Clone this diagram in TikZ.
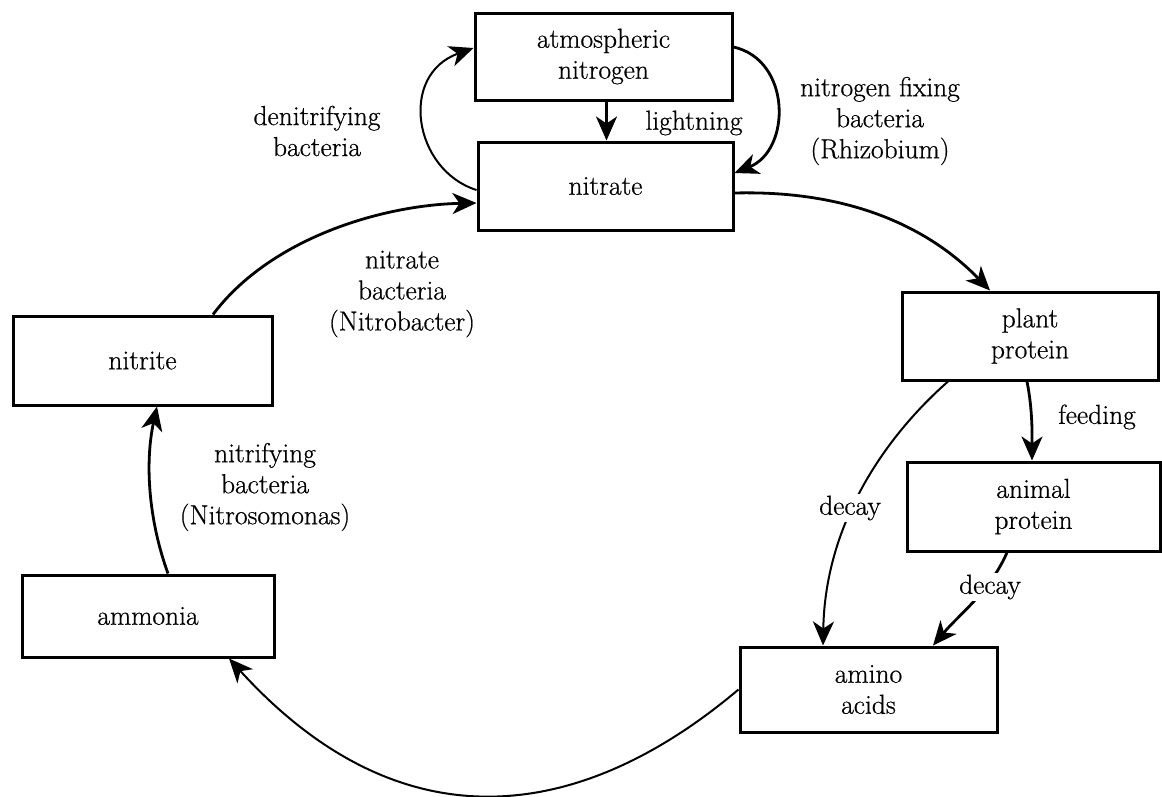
\documentclass[tikz,border=0pt]{standalone}
\usepackage{fontspec}
\setmainfont{Latin Modern Roman}
\newfontfamily\diagfont{Latin Modern Roman}[FakeBold=0.6]
\usetikzlibrary{arrows.meta}
\begin{document}
\begin{tikzpicture}[x=1pt,y=-1pt,
  font=\diagfont\fontsize{27.5}{31}\selectfont,
  box/.style={draw, line width=3pt, align=center, inner sep=0pt, fill=white},
  tipstyle/.style={-{Stealth[length=24pt,width=21pt,inset=7pt]}},
  conn/.style={tipstyle, line width=2.8pt},
  thinconn/.style={tipstyle, line width=2pt},
  lbl/.style={align=center, inner sep=2pt}]
\useasboundingbox (0,0) rectangle (1162,796);
% boxes
\node[box, minimum width=257pt, minimum height=87pt] (atm) at (603.5,56.5) {atmospheric\\nitrogen};
\node[box, minimum width=255pt, minimum height=88pt] (nitrate) at (605.5,186) {nitrate};
\node[box, minimum width=256pt, minimum height=88pt] (plant) at (1030,336) {plant\\protein};
\node[box, minimum width=253pt, minimum height=89pt] (animal) at (1033.5,506.5) {animal\\protein};
\node[box, minimum width=257pt, minimum height=85pt] (amino) at (868.5,689.5) {amino\\acids};
\node[box, minimum width=252pt, minimum height=82pt] (ammonia) at (148,616) {ammonia};
\node[box, minimum width=259pt, minimum height=89pt] (nitrite) at (142.5,360.5) {nitrite};
% connectors
\draw[conn] ([xshift=3pt]atm.south) -- ([xshift=1pt]nitrate.north);
\draw[thinconn] ([yshift=-4pt]nitrate.west) .. controls +(-63,-20) and +(-75,27) .. ([yshift=8.5pt]atm.west);
\draw[conn] ([yshift=9.5pt]atm.east) .. controls +(58,13) and +(57,-23) .. ([yshift=13pt]nitrate.east);
\draw[conn] ([yshift=-7pt]nitrate.east) .. controls +(117,-3) and +(-60,-62) .. ([xshift=-40pt]plant.north);
\draw[conn] ([xshift=-3pt]plant.south) .. controls +(6,30) and +(0,-22) .. ([xshift=-1.5pt]animal.north);
\draw[thinconn] ([xshift=-82pt]plant.south) .. controls +(-68,60) and +(2,-117) .. ([xshift=-45.5pt]amino.north);
\draw[conn] ([xshift=-26.5pt]animal.south) .. controls +(-17,39) and +(27,-32) .. ([xshift=64.5pt]amino.north);
\draw[thinconn] (amino.west) .. controls +(-160,135) and +(171,188) .. ([xshift=81pt]ammonia.south);
\draw[conn] ([xshift=20pt]ammonia.north) .. controls +(-20,-55) and +(-12,55) .. ([xshift=14.5pt]nitrite.south);
\draw[conn] ([xshift=70.5pt]nitrite.north) .. controls +(57,-76) and +(-95,2) .. ([yshift=-17pt]nitrate.west);
% labels
\node[lbl] (llight) at (694,123) {lightning};
\node[lbl] (ldenit) at (317,131) {denitrifying\\bacteria};
\node[lbl] (lfix) at (880,121) {nitrogen fixing\\bacteria\\(Rhizobium)};
\node[lbl] (lnitrobac) at (402,294) {nitrate\\bacteria\\(Nitrobacter)};
\node[lbl] (lfeed) at (1097,417) {feeding};
\node[lbl, fill=white] (ldecayA) at (850,508) {decay};
\node[lbl, fill=white] (ldecayB) at (990,587) {decay};
\node[lbl] (lnitrif) at (265,487) {nitrifying\\bacteria\\(Nitrosomonas)};
\end{tikzpicture}
\end{document}
